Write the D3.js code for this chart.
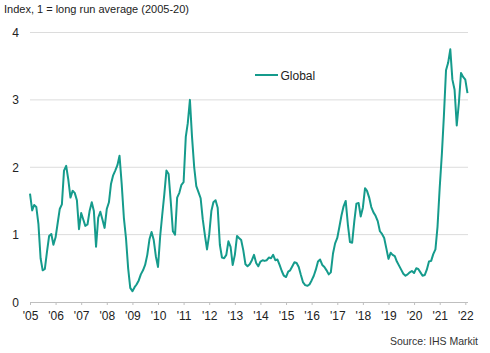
<!DOCTYPE html>
<html>
<head>
<meta charset="utf-8">
<script src="https://cdn.jsdelivr.net/npm/d3@7"></script>
<style>
  html, body { margin: 0; padding: 0; background: #fff; }
  text { font-family: "Liberation Sans", Arial, sans-serif; }
</style>
</head>
<body>
<svg id="chart" width="490" height="353"></svg>
<script>
// Monthly index values, Jan 2005 onward
const startYear = 2005;
const globalValues = [
  1.61,1.36,1.44,1.41,1.16,0.65,0.47,0.49,0.75,0.98,1.01,0.85,
  0.96,1.18,1.38,1.45,1.95,2.02,1.82,1.55,1.65,1.62,1.51,1.08,
  1.32,1.22,1.13,1.15,1.35,1.48,1.35,0.82,1.25,1.34,1.22,1.10,
  1.38,1.48,1.75,1.88,1.95,2.03,2.17,1.75,1.25,0.95,0.50,0.21,
  0.16,0.22,0.26,0.32,0.41,0.47,0.55,0.70,0.93,1.04,0.92,0.68,
  0.52,0.98,1.28,1.60,1.95,1.90,1.50,1.05,1.00,1.55,1.62,1.74,
  1.78,2.45,2.65,3.00,2.45,2.00,1.72,1.63,1.54,1.23,0.99,0.78,
  1.00,1.35,1.48,1.51,1.40,0.85,0.66,0.65,0.70,0.90,0.82,0.55,
  0.70,0.98,0.95,0.92,0.77,0.56,0.53,0.56,0.62,0.70,0.58,0.53,
  0.60,0.62,0.61,0.62,0.66,0.65,0.70,0.62,0.63,0.55,0.46,0.39,
  0.37,0.45,0.47,0.53,0.59,0.58,0.52,0.40,0.29,0.25,0.24,0.26,
  0.32,0.39,0.48,0.60,0.63,0.55,0.52,0.47,0.41,0.44,0.72,0.87,
  0.95,1.12,1.28,1.42,1.50,1.15,0.89,0.88,1.20,1.46,1.47,1.27,
  1.40,1.69,1.65,1.55,1.41,1.33,1.28,1.20,1.05,1.01,0.95,0.80,
  0.64,0.73,0.70,0.68,0.60,0.54,0.48,0.42,0.39,0.41,0.44,0.46,
  0.43,0.50,0.49,0.44,0.39,0.40,0.48,0.60,0.61,0.71,0.78,1.12,
  1.70,2.20,2.75,3.44,3.55,3.75,3.30,3.15,2.62,2.95,3.40,3.34,
  3.30,3.10
];
const yTicks = [0, 1, 2, 3, 4];
const xTickYears = d3.range(2005, 2023);
const xTickLabels = xTickYears.map(yr => "'" + String(yr).slice(2));
const seriesName = "Global";
const yTitle = "Index, 1 = long run average (2005-20)";
const sourceText = "Source: IHS Markit";

const data = globalValues.map((v, i) => ({ date: new Date(startYear, i, 1), value: v }));

const svg = d3.select("#chart");
const plotLeft = 30, plotRight = 465.3, plotTop = 32.5, plotBottom = 302;
const lineColor = "#159b8c";

const x = d3.scaleTime()
  .domain([new Date(2005, 0, 1), new Date(2022, 0, 1)])
  .range([plotLeft, plotRight]);
const y = d3.scaleLinear().domain([0, 4]).range([plotBottom, plotTop]);

// gridlines
svg.append("g").selectAll("line")
  .data(yTicks.filter(t => t > 0))
  .join("line")
  .attr("x1", plotLeft).attr("x2", 468)
  .attr("y1", d => y(d)).attr("y2", d => y(d))
  .attr("stroke", "#dcdcdc").attr("stroke-width", 1);

// y labels
svg.append("g").selectAll("text")
  .data(yTicks)
  .join("text")
  .attr("x", 19).attr("y", d => y(d) + 4.5)
  .attr("text-anchor", "end")
  .attr("font-size", 12).attr("fill", "#222")
  .text(d => d);

// x axis
const xAxis = d3.axisBottom(x)
  .tickValues(xTickYears.map(yr => new Date(yr, 0, 1)))
  .tickFormat((d, i) => xTickLabels[i])
  .tickSize(3)
  .tickPadding(6);
const gx = svg.append("g").attr("transform", `translate(0,${plotBottom})`).call(xAxis);
gx.select(".domain").attr("stroke", "#bfbfbf").attr("d", `M${plotLeft},0.5H468`);
gx.selectAll(".tick line").attr("stroke", "#bfbfbf");
gx.selectAll(".tick text").attr("font-size", 12).attr("fill", "#222")
  .attr("font-family", "Liberation Sans, Arial, sans-serif");

// line
const line = d3.line().x(d => x(d.date)).y(d => y(d.value));
svg.append("path").datum(data)
  .attr("d", line)
  .attr("fill", "none")
  .attr("stroke", lineColor)
  .attr("stroke-width", 2)
  .attr("stroke-linejoin", "round");

// legend
svg.append("line").attr("x1", 255).attr("x2", 278).attr("y1", 75).attr("y2", 75)
  .attr("stroke", lineColor).attr("stroke-width", 2);
svg.append("text").attr("x", 280.5).attr("y", 79.5)
  .attr("font-size", 12).attr("fill", "#222").text(seriesName);

// title
svg.append("text").attr("x", 4).attr("y", 12.5)
  .attr("font-size", 11).attr("fill", "#222").text(yTitle);

// source
svg.append("text").attr("x", 478).attr("y", 345)
  .attr("text-anchor", "end")
  .attr("font-size", 10.5).attr("fill", "#333").text(sourceText);
</script>
</body>
</html>
